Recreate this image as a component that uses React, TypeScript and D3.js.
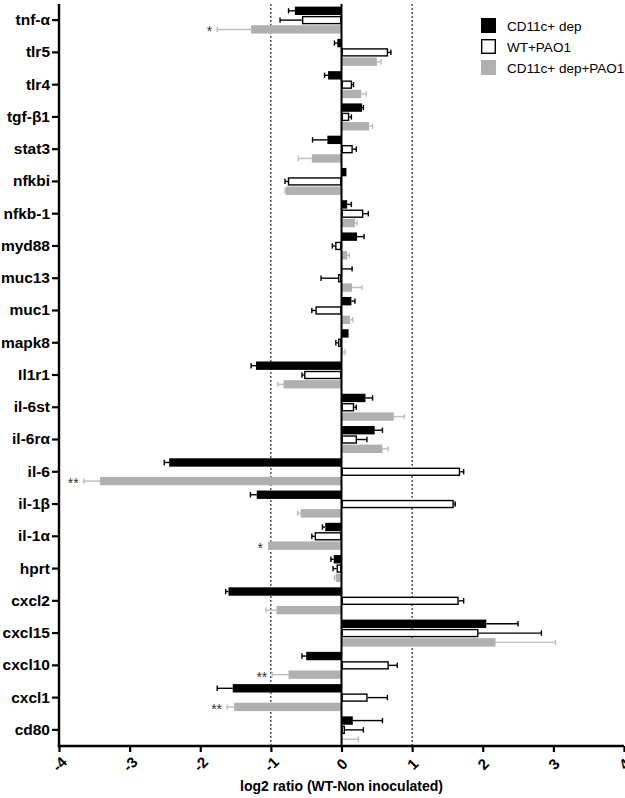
import { useEffect, useRef } from "react";
import { axisBottom, axisLeft, scaleBand, scaleLinear, select } from "d3";

const genes = [
  "tnf-α", "tlr5", "tlr4", "tgf-β1", "stat3", "nfkbi", "nfkb-1", "myd88",
  "muc13", "muc1", "mapk8", "Il1r1", "il-6st", "il-6rα", "il-6", "il-1β",
  "il-1α", "hprt", "cxcl2", "cxcl15", "cxcl10", "cxcl1", "cd80",
];

const seriesNames = ["CD11c+ dep", "WT+PAO1", "CD11c+ dep+PAO1"];

const depValues = [
  -0.66, -0.06, -0.19, 0.29, -0.2, 0.07, 0.08, 0.22, 0.01, 0.14, 0.1, -1.21,
  0.34, 0.47, -2.44, -1.2, -0.23, -0.11, -1.6, 2.05, -0.5, -1.54, 0.16,
];
const depErrors = [
  0.09, 0.04, 0.05, 0.02, 0.21, 0, 0.06, 0.1, 0.14, 0.05, 0, 0.07,
  0.1, 0.11, 0.07, 0.09, 0.04, 0.04, 0.04, 0.45, 0.06, 0.22, 0.42,
];
const wtValues = [
  -0.56, 0.66, 0.15, 0.11, 0.16, -0.76, 0.31, -0.09, -0.05, -0.37, -0.05, -0.53,
  0.18, 0.22, 1.68, 1.59, -0.38, -0.07, 1.66, 1.94, 0.67, 0.37, 0.05,
];
const wtErrors = [
  0.31, 0.04, 0.02, 0.03, 0.05, 0.04, 0.07, 0.04, 0.24, 0.05, 0.03, 0.03,
  0.03, 0.14, 0.05, 0.02, 0.04, 0.05, 0.07, 0.89, 0.12, 0.28, 0.26,
];
const depPaoValues = [
  -1.28, 0.5, 0.28, 0.39, -0.42, -0.79, 0.19, 0.08, 0.15, 0.12, 0.02, -0.82,
  0.74, 0.58, -3.42, -0.58, -1.04, -0.08, -0.92, 2.18, -0.75, -1.52, 0.02,
];
const depPaoErrors = [
  0.48, 0.06, 0.07, 0.05, 0.19, 0.01, 0.03, 0.03, 0.14, 0.04, 0.03, 0.08,
  0.15, 0.08, 0.23, 0.04, 0, 0.02, 0.15, 0.85, 0.23, 0.1, 0.22,
];

// significance marks on the CD11c+ dep+PAO1 bars
const starGenes = ["tnf-α", "il-6", "il-1α", "cxcl10", "cxcl1"];
const starLabels = ["*", "**", "*", "**", "**"];

const xTicks = [-4, -3, -2, -1, 0, 1, 2, 3, 4];
const refLines = [-1, 1];

const FONT = "'Liberation Sans', Arial, Helvetica, sans-serif";

const width = 625;
const height = 798;
const left = 59;
const right = 624;
const top = 4;
const bottom = 746;

const series = [
  { name: seriesNames[0], values: depValues, errors: depErrors, fill: "#000", stroke: "none", err: "#000" },
  { name: seriesNames[1], values: wtValues, errors: wtErrors, fill: "#fff", stroke: "#000", err: "#000" },
  { name: seriesNames[2], values: depPaoValues, errors: depPaoErrors, fill: "#b0b0b0", stroke: "none", err: "#bdbdbd" },
];

function AxisLeft({ scale }) {
  const ref = useRef(null);
  useEffect(() => {
    if (!ref.current) return;
    const g = select(ref.current);
    g.call(axisLeft(scale).tickSizeOuter(0).tickSize(7).tickPadding(2));
    g.select(".domain").remove();
    g.selectAll(".tick line").attr("stroke", "#000").attr("stroke-width", 2.2);
    g.selectAll(".tick text")
      .attr("font-family", FONT)
      .attr("font-weight", "bold")
      .attr("font-size", 15.5)
      .attr("fill", "#000");
  }, [scale]);
  return <g ref={ref} transform={`translate(${left}, 0)`} />;
}

function AxisBottom({ scale }) {
  const ref = useRef(null);
  useEffect(() => {
    if (!ref.current) return;
    const g = select(ref.current);
    g.call(axisBottom(scale).tickValues(xTicks).tickFormat((d) => String(d)).tickSizeOuter(0).tickSize(6));
    g.select(".domain").remove();
    g.selectAll(".tick line").attr("stroke", "#000").attr("stroke-width", 2.2);
    g.selectAll(".tick text")
      .attr("font-family", FONT)
      .attr("font-weight", "bold")
      .attr("font-size", 15)
      .attr("fill", "#000")
      .attr("text-anchor", "middle")
      .attr("dy", "0.35em")
      .attr("y", 0)
      .attr("transform", "translate(0, 18) rotate(-45)");
  }, [scale]);
  return <g ref={ref} transform={`translate(0, ${bottom})`} />;
}

export default function App() {
  const x = scaleLinear().domain([-4, 4]).range([left, right]);
  const y = scaleBand().domain(genes).range([top, bottom]).padding(0);
  const inner = scaleBand().domain(seriesNames).range([-13.5, 13.5]).paddingInner(0.1);
  const bh = inner.bandwidth();
  const center = (g) => (y(g) ?? 0) + y.bandwidth() / 2;

  return (
    <svg
      width={width}
      height={height}
      style={{ position: "absolute", left: 0, top: 0, background: "#fff" }}
    >
      {refLines.map((v) => (
        <line
          key={`ref-${v}`}
          x1={x(v)}
          x2={x(v)}
          y1={top}
          y2={bottom}
          stroke="#000"
          strokeWidth={1}
          strokeDasharray="2,2"
        />
      ))}

      {series.map((s) =>
        genes.map((g, i) => {
          const v = s.values[i];
          const e = s.errors[i];
          const yy = center(g) + (inner(s.name) ?? 0);
          const x0 = x(0);
          const xv = x(v);
          const xe = x(v + Math.sign(v || 1) * e);
          const outlined = s.stroke !== "none";
          return (
            <g key={`${s.name}-${g}`}>
              {e > 0 && (
                <>
                  <line x1={xv} x2={xe} y1={yy + bh / 2} y2={yy + bh / 2} stroke={s.err} strokeWidth={1.4} />
                  <line x1={xe} x2={xe} y1={yy + 1.5} y2={yy + bh - 1.5} stroke={s.err} strokeWidth={1.4} />
                </>
              )}
              <rect
                x={Math.min(x0, xv) + (outlined ? 0.7 : 0)}
                y={yy + (outlined ? 0.7 : 0)}
                width={Math.max(Math.abs(xv - x0) - (outlined ? 1.4 : 0), 0.5)}
                height={bh - (outlined ? 1.4 : 0)}
                fill={s.fill}
                stroke={s.stroke}
                strokeWidth={1.4}
              />
            </g>
          );
        })
      )}

      {starGenes.map((g, i) => {
        const k = genes.indexOf(g);
        const v = depPaoValues[k];
        const e = depPaoErrors[k];
        const yy = center(g) + (inner(seriesNames[2]) ?? 0);
        return (
          <text
            key={`star-${g}`}
            x={x(v - e) - 5}
            y={yy + bh / 2 + 7}
            textAnchor="end"
            fontFamily={FONT}
            fontSize={14}
            fill="#333"
          >
            {starLabels[i]}
          </text>
        );
      })}

      <line x1={x(0)} x2={x(0)} y1={top} y2={bottom} stroke="#000" strokeWidth={2} />
      <line x1={left} x2={left} y1={top} y2={bottom + 1.2} stroke="#000" strokeWidth={2.4} />
      <line x1={left - 1.2} x2={right} y1={bottom} y2={bottom} stroke="#000" strokeWidth={2.4} />

      <AxisLeft scale={y} />
      <AxisBottom scale={x} />

      <text
        x={x(0)}
        y={791}
        textAnchor="middle"
        fontFamily={FONT}
        fontWeight="bold"
        fontSize={14}
        fill="#000"
      >
        log2 ratio (WT-Non inoculated)
      </text>

      {series.map((s, i) => {
        const outlined = s.stroke !== "none";
        return (
          <g key={`legend-${s.name}`} transform={`translate(481, ${18 + i * 21})`}>
            <rect
              x={outlined ? 0.7 : 0}
              y={outlined ? 0.7 : 0}
              width={outlined ? 13.6 : 15}
              height={outlined ? 13.6 : 15}
              fill={s.fill}
              stroke={s.stroke}
              strokeWidth={1.4}
            />
            <text x={26} y={12.5} fontFamily={FONT} fontSize={13.5} fill="#000">
              {s.name}
            </text>
          </g>
        );
      })}
    </svg>
  );
}
